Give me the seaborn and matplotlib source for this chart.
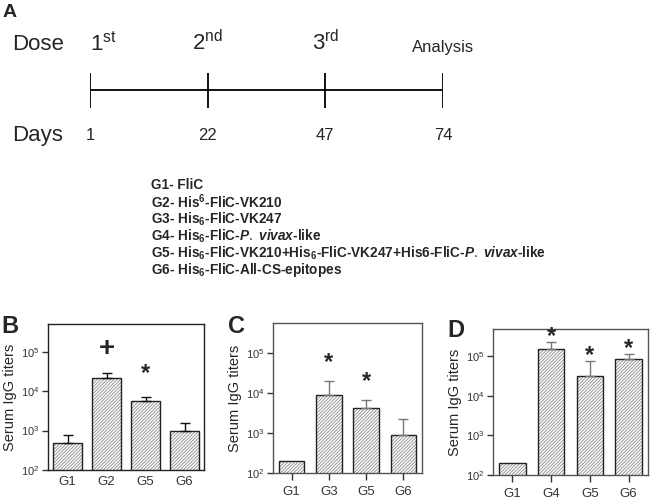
import matplotlib
matplotlib.use("Agg")
import matplotlib.pyplot as plt
import numpy as np
import pandas as pd
import seaborn as sns

# panel A timeline
dose_labels = [r"1$^{\mathrm{st}}$", r"2$^{\mathrm{nd}}$", r"3$^{\mathrm{rd}}$", "Analysis"]
days = ["1", "22", "47", "74"]

# group legend
group_lines = [
    "G1- FliC",
    r"G2- His$^{\mathbf{6}}$-FliC-VK210",
    r"G3- His$_{\mathbf{6}}$-FliC-VK247",
    r"G4- His$_{\mathbf{6}}$-FliC-$\mathit{P.}$ $\mathit{vivax}$-like",
    r"G5- His$_{\mathbf{6}}$-FliC-VK210+His$_{\mathbf{6}}$-FliC-VK247+His6-FliC-$\mathit{P.}$ $\mathit{vivax}$-like",
    r"G6- His$_{\mathbf{6}}$-FliC-All-CS-epitopes",
]

# panel B
b_groups = ["G1", "G2", "G5", "G6"]
b_mean = [480, 22000, 5600, 1000]
b_upper = [780, 29000, 7000, 1550]
b_marks = ["", "+", "*", ""]

# panel C
c_groups = ["G1", "G3", "G5", "G6"]
c_mean = [205, 8800, 4200, 900]
c_upper = [None, 20000, 6700, 2200]
c_marks = ["", "*", "*", ""]

# panel D
d_groups = ["G1", "G4", "G5", "G6"]
d_mean = [200, 150000, 31000, 83000]
d_upper = [None, 220000, 74000, 112000]
d_marks = ["", "*", "*", "*"]

sns.set_style("white")
plt.rcParams['font.family'] = ['Liberation Sans', 'DejaVu Sans']
plt.rcParams['mathtext.fontset'] = 'custom'
plt.rcParams['mathtext.rm'] = 'Liberation Sans'
plt.rcParams['mathtext.bf'] = 'Liberation Sans:bold'
plt.rcParams['mathtext.it'] = 'Liberation Sans:bold:italic'
plt.rcParams['hatch.linewidth'] = 0.6

W, H = 650, 498
fig = plt.figure(figsize=(6.5, 4.98), dpi=100)


def px_axes(left, top, right, bottom):
    return fig.add_axes([left / W, 1 - bottom / H, (right - left) / W, (bottom - top) / H])


# ---- panel A ----
fig.text(3 / W, 1 - 17 / H, "A", fontsize=14, fontweight="bold", ha="left", va="baseline")
ax_a = px_axes(90, 73, 443, 108)
ax_a.set_xlim(0, len(days) - 1)
ax_a.set_ylim(0, 1)
ax_a.axis("off")
ax_a.hlines(0.5, 0, len(days) - 1, color="black", lw=1.3)
ax_a.vlines(range(len(days)), 0, 1, color="black", lw=1.3)
for i, lab in enumerate(dose_labels):
    if lab == "Analysis":
        ax_a.text(i, 1 + (73 - 52) / 35, lab, fontsize=12, ha="center", va="baseline",
                  clip_on=False)
    else:
        ax_a.text(i, 1 + (73 - 50) / 35, lab, fontsize=16, ha="left" if i == 0 else "center",
                  va="baseline", clip_on=False)
for i, d in enumerate(days):
    ax_a.text(i, -(140 - 108) / 35, d, fontsize=12, ha="center", va="baseline", clip_on=False)
fig.text(12 / W, 1 - 50 / H, "Dose", fontsize=16, ha="left", va="baseline")
fig.text(12 / W, 1 - 141 / H, "Days", fontsize=16, ha="left", va="baseline")

for k, line in enumerate(group_lines):
    fig.text(151 / W, 1 - (185 + 17 * k) / H, line, fontsize=9.8, fontweight="bold",
             ha="left", va="center")


# ---- bar panels ----
def bar_panel(box, groups, mean, upper, marks, ytop, err_color, spine_color,
              mark_dec, show_xticks, width):
    ax = px_axes(*box)
    df = pd.DataFrame({"group": groups, "titer": mean})
    sns.barplot(data=df, x="group", y="titer", ax=ax, color="white", width=width,
                edgecolor="#8a8a8a", linewidth=0, hatch="//////////")
    x = np.arange(len(groups))
    ax.bar(x, mean, width=width, fill=False, edgecolor="#222222", linewidth=1.0)
    for i, (m, u) in enumerate(zip(mean, upper)):
        if u is None:
            continue
        ax.errorbar(i, m, yerr=[[0], [u - m]], fmt="none", ecolor=err_color,
                    elinewidth=1.0, capsize=3.5, capthick=1.0)
    ax.set_yscale("log")
    ax.set_ylim(100, ytop)
    ax.set_xlim(-0.5, len(groups) - 0.5)
    ax.set_yticks([1e2, 1e3, 1e4, 1e5])
    ax.minorticks_off()
    ax.tick_params(axis="y", direction="out", length=4, width=1, labelsize=8,
                   left=True, pad=2, colors="#333333")
    ax.tick_params(axis="x", direction="out", length=5 if show_xticks else 0, width=1,
                   labelsize=9.5, pad=4, colors="#333333", bottom=show_xticks)
    ax.set_xlabel("")
    ax.set_ylabel("Serum IgG titers", fontsize=10.5, labelpad=3)
    for s in ax.spines.values():
        s.set_visible(True)
        s.set_color(spine_color)
        s.set_linewidth(1.0)
    for i, mk in enumerate(marks):
        if not mk:
            continue
        top = upper[i] if upper[i] is not None else mean[i]
        ax.text(i, top * 10 ** mark_dec, mk, fontsize=17 if mk == "*" else 20,
                fontweight="bold", ha="center", va="center")
    return ax


ax_b = bar_panel((48, 324, 204, 470), b_groups, b_mean, b_upper, b_marks,
                 10 ** 5.7, "#111111", "#222222", 0.6, False, 0.75)
ax_c = bar_panel((273, 323, 422, 473), c_groups, c_mean, c_upper, c_marks,
                 10 ** 5.75, "#777777", "#555555", 0.45, True, 0.68)
ax_d = bar_panel((493, 329, 648, 475), d_groups, d_mean, d_upper, d_marks,
                 10 ** 5.68, "#777777", "#555555", 0.15, True, 0.68)

fig.text(1 / W, 1 - 333 / H, "B", fontsize=17, fontweight="bold", ha="left", va="baseline")
fig.text(228 / W, 1 - 333 / H, "C", fontsize=17, fontweight="bold", ha="left", va="baseline")
fig.text(447 / W, 1 - 337 / H, "D", fontsize=17, fontweight="bold", ha="left", va="baseline")

fig.savefig("out.png", dpi=100)
